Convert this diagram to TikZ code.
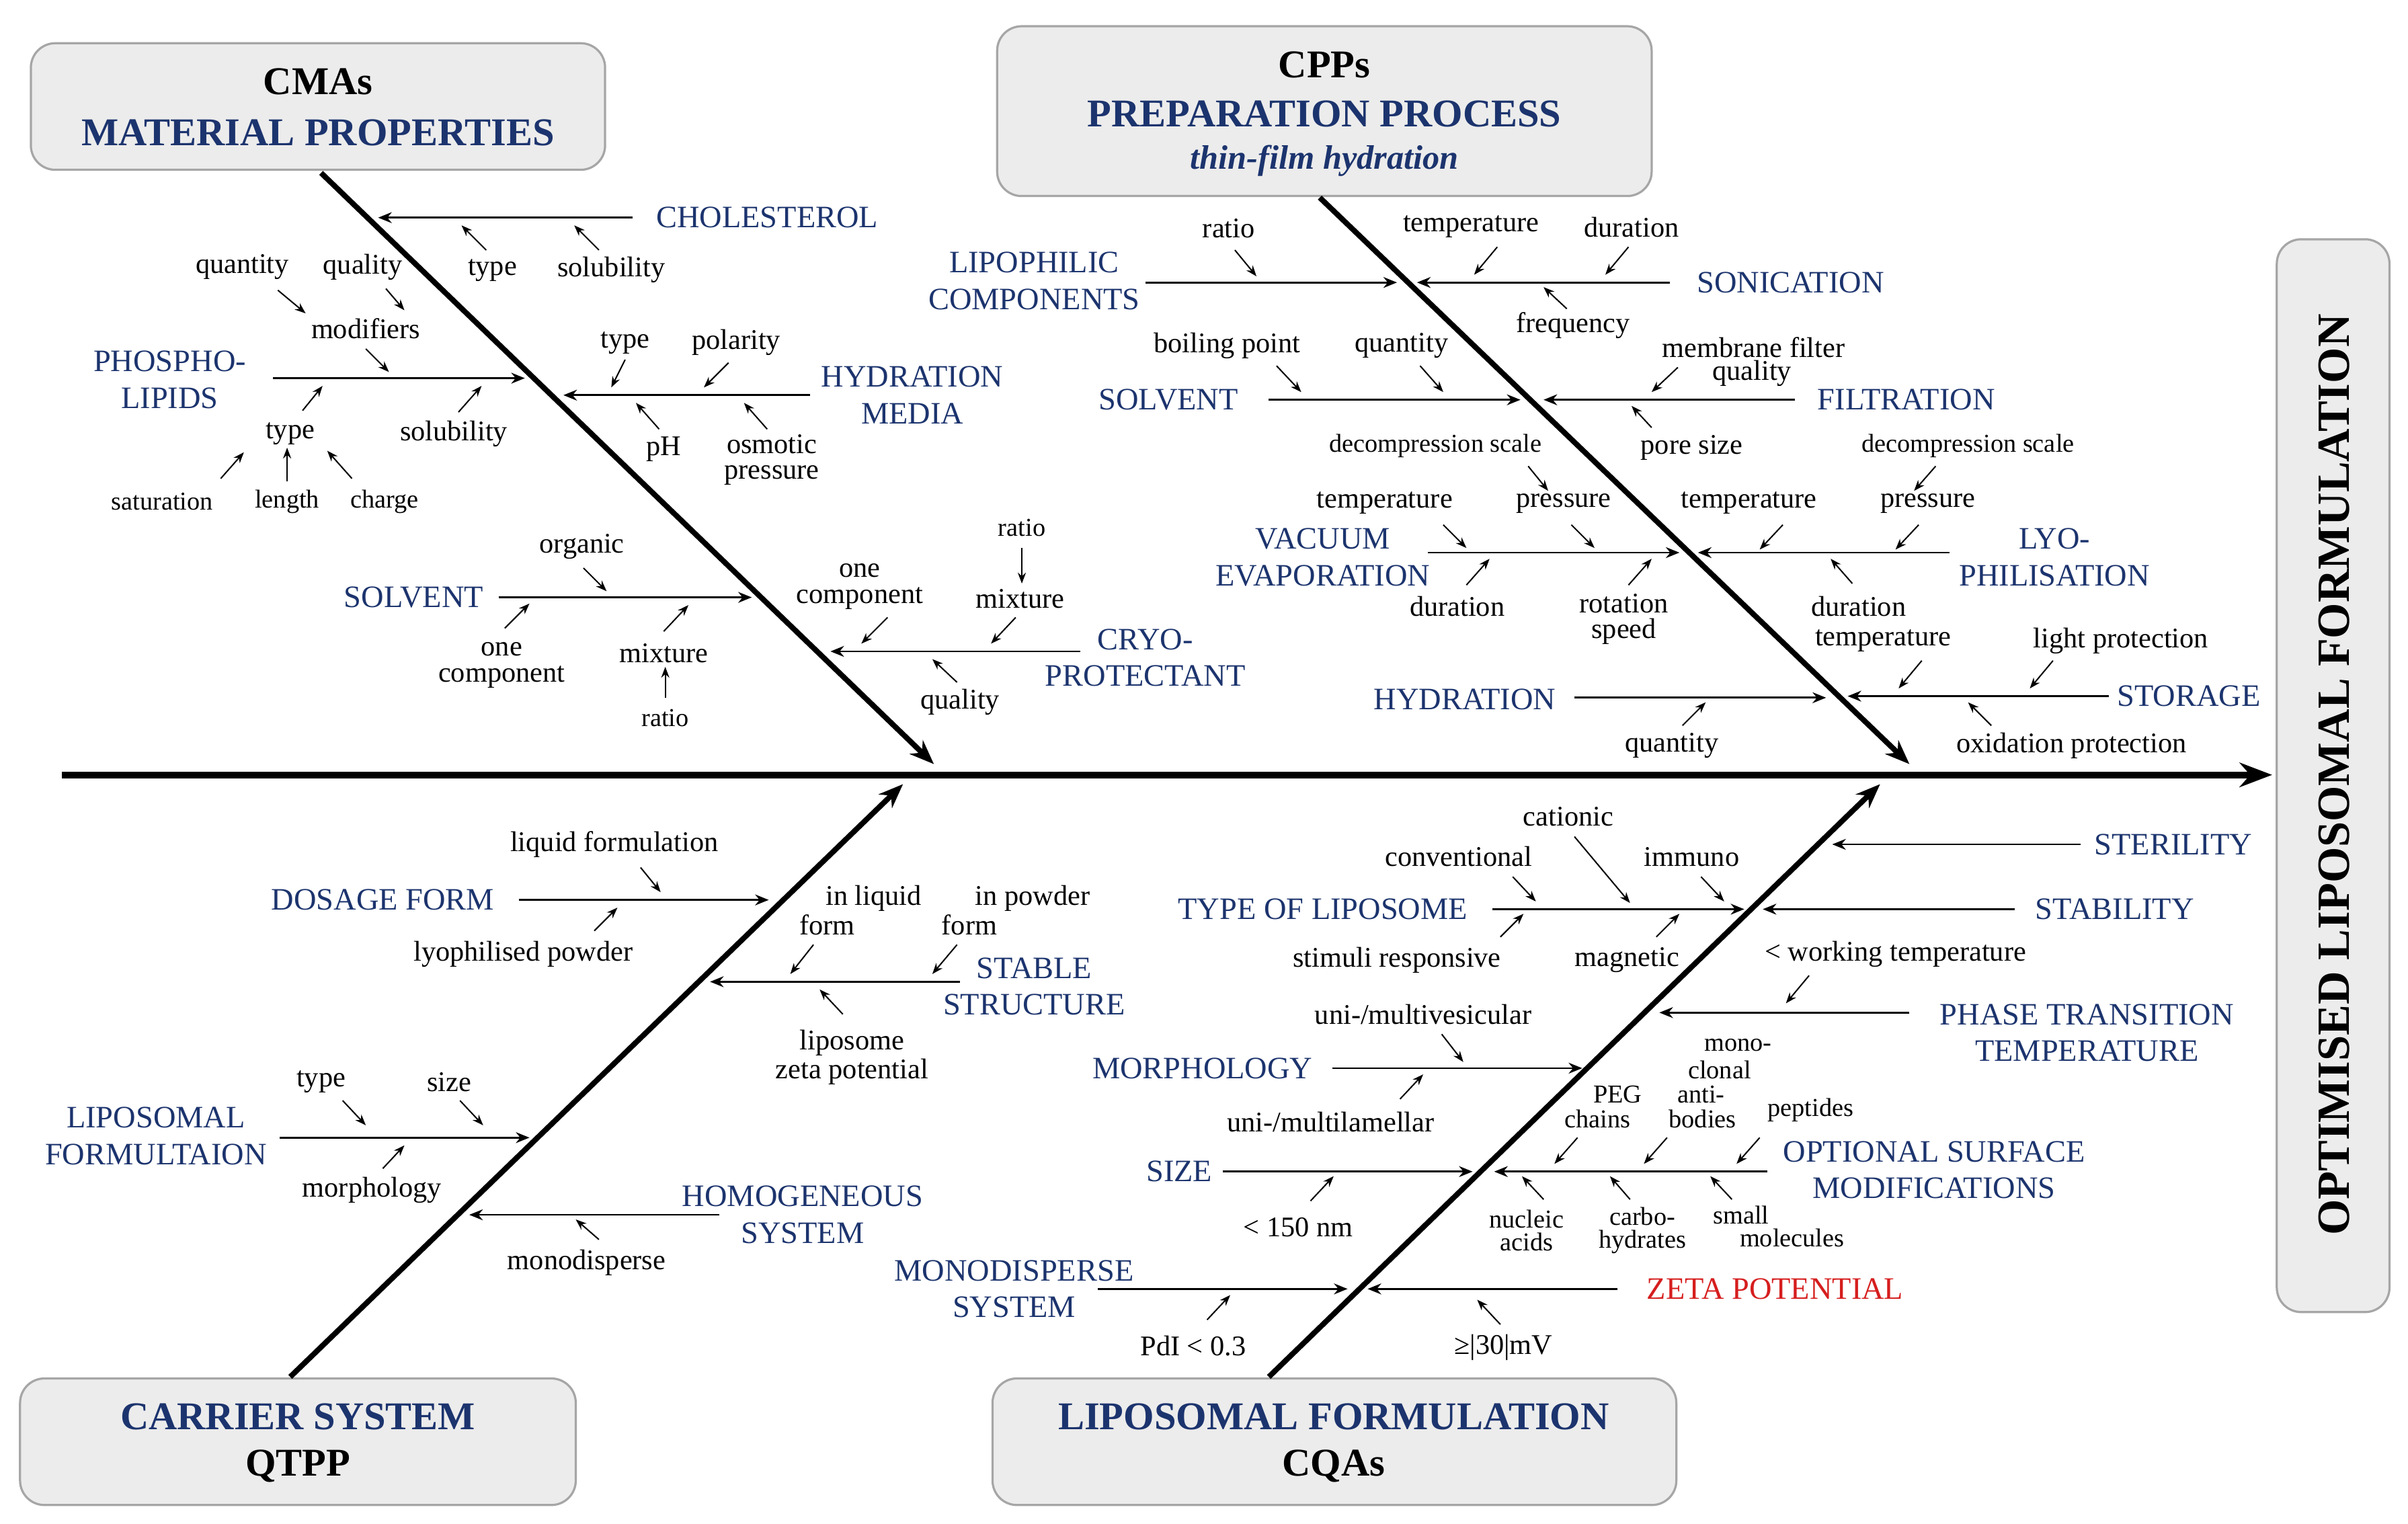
\documentclass[tikz,border=0pt]{standalone}
\usepackage{fontspec}
\setmainfont{Liberation Serif}
\usetikzlibrary{arrows.meta}
\definecolor{navy}{RGB}{28,52,110}
\definecolor{zred}{RGB}{214,30,30}
\definecolor{boxg}{RGB}{236,236,236}
\tikzset{
 sl/.style={font=\fontsize{10.5}{9.5}\selectfont,align=center,inner sep=0pt},
 bl/.style={font=\fontsize{11.5}{13.5}\selectfont,text=navy,align=center,inner sep=0pt},
 tt/.style={font=\fontsize{14.5}{17.5}\selectfont\bfseries,text=navy,align=center,inner sep=0pt},
 boxx/.style={draw=gray!70,fill=boxg,rounded corners=9pt,line width=0.8pt},
 br/.style={line width=0.7pt,-{Stealth[length=5pt,width=4pt]}},
 sa/.style={line width=0.5pt,-{Stealth[length=4pt,width=3pt]}},
 bone/.style={line width=2pt,-{Stealth[length=9pt,width=7pt]}},
}
\begin{document}
\begin{tikzpicture}[x=0.02cm,y=-0.02cm]
\useasboundingbox (0,0) rectangle (1560,987);
% boxes
\draw[boxx] (20,28) rectangle (392,110);
\node[tt,text=black] (t1) at (206,53) {CMAs};
\node[tt] (t1b) at (206,86) {MATERIAL PROPERTIES};
\draw[boxx] (646,17) rectangle (1070,127);
\node[tt,text=black] (t2) at (858,42) {CPPs};
\node[tt] (t2b) at (858,74) {PREPARATION PROCESS};
\node[tt,font=\fontsize{12.5}{14}\selectfont\bfseries\itshape] (t2c) at (858,104) {thin-film hydration};
\draw[boxx] (13,893) rectangle (373,975);
\node[tt] (t3) at (193,918) {CARRIER SYSTEM};
\node[tt,text=black] (t3b) at (193,950) {QTPP};
\draw[boxx] (643,893) rectangle (1086,975);
\node[tt] (t4) at (864,918) {LIPOSOMAL FORMULATION};
\node[tt,text=black] (t4b) at (864,950) {CQAs};
\draw[boxx] (1475,155) rectangle (1548,850);
\node[tt,text=black,font=\fontsize{17}{20}\selectfont\bfseries,rotate=90] (goal) at (1512,502) {OPTIMISED LIPOSOMAL FORMULATION};
% spine and bones
\coordinate (s0) at (40,502); \coordinate (s1) at (1472,502);
\draw[line width=2.4pt,-{Stealth[length=12pt,width=9pt]}] (s0) -- (s1);
\draw[bone] (208,112) -- (605,495);
\draw[bone] (855,128) -- (1237,495);
\draw[bone] (188,892) -- (585,508);
\draw[bone] (822,892) -- (1218,508);

% ===== CMAs
\node[bl] at (497,141) {CHOLESTEROL};
\draw[br] (410,141) -- (245,141);
\node[sl] at (319,175) {type}; \draw[sa] (315,162) -- (299,146);
\node[sl] at (396,175) {solubility}; \draw[sa] (388,162) -- (372,146);
\node[bl] at (110,246) {PHOSPHO-\\LIPIDS};
\draw[br] (177,245) -- (340,245);
\node[sl] at (157,173) {quantity}; \draw[sa] (180,188) -- (198,203);
\node[sl] at (235,173) {quality}; \draw[sa] (250,187) -- (262,201);
\node[sl] at (237,213) {modifiers}; \draw[sa] (237,226) -- (252,241);
\node[sl] at (188,281) {type}; \draw[sa] (196,266) -- (209,250);
\node[sl] at (294,281) {solubility}; \draw[sa] (297,267) -- (312,250);
\node[sl,font=\fontsize{9.5}{9}\selectfont] at (105,325) {saturation}; \draw[sa] (143,310) -- (158,293);
\node[sl,font=\fontsize{9.5}{9}\selectfont] at (186,325) {length}; \draw[sa] (186,312) -- (186,290);
\node[sl,font=\fontsize{9.5}{9}\selectfont] at (249,325) {charge}; \draw[sa] (228,310) -- (212,292);
\node[bl] at (591,256) {HYDRATION\\MEDIA};
\draw[br] (525,256) -- (365,256);
\node[sl] at (405,222) {type}; \draw[sa] (405,233) -- (396,251);
\node[sl] at (477,222) {polarity}; \draw[sa] (472,235) -- (456,251);
\node[sl] at (430,291) {pH}; \draw[sa] (427,278) -- (412,261);
\node[sl] at (500,298) {osmotic\\pressure}; \draw[sa] (497,278) -- (482,261);
\node[bl] at (268,387) {SOLVENT};
\draw[br] (323,387) -- (487,387);
\node[sl] at (377,354) {organic}; \draw[sa] (378,368) -- (393,383);
\node[sl] at (325,431) {one\\component}; \draw[sa] (327,407) -- (343,391);
\node[sl] at (430,423) {mixture}; \draw[sa] (430,409) -- (446,392);
\node[sl,font=\fontsize{9.5}{9}\selectfont] at (431,465) {ratio}; \draw[sa] (431,452) -- (431,432);
\node[bl] at (742,426) {CRYO-\\PROTECTANT};
\draw[br] (700,422) -- (538,422);
\node[sl] at (557,380) {one\\component}; \draw[sa] (575,400) -- (558,417);
\node[sl,font=\fontsize{9.5}{9}\selectfont] at (662,342) {ratio}; \draw[sa] (662,355) -- (662,378);
\node[sl] at (661,388) {mixture}; \draw[sa] (658,400) -- (642,417);
\node[sl] at (622,455) {quality}; \draw[sa] (620,442) -- (604,427);

% ===== CPPs
\node[bl] at (670,182) {LIPOPHILIC\\COMPONENTS};
\draw[br] (742,183) -- (905,183);
\node[sl] at (796,148) {ratio}; \draw[sa] (800,162) -- (814,179);
\node[bl] at (1160,183) {SONICATION};
\draw[br] (1082,183) -- (918,183);
\node[sl] at (953,147) {temperature}; \draw[sa] (970,160) -- (955,178);
\node[sl] at (1057,147) {duration}; \draw[sa] (1055,160) -- (1040,178);
\node[sl] at (1019,211) {frequency}; \draw[sa] (1015,200) -- (1000,186);
\node[bl] at (757,259) {SOLVENT};
\draw[br] (822,259) -- (985,259);
\node[sl] at (795,224) {boiling point}; \draw[sa] (827,237) -- (843,254);
\node[sl] at (908,224) {quantity}; \draw[sa] (920,237) -- (935,254);
\node[bl] at (1235,259) {FILTRATION};
\draw[br] (1163,259) -- (1000,259);
\node[sl] at (1136,225) {membrane filter};
\node[sl] at (1135,242) {quality}; \draw[sa] (1087,238) -- (1070,254);
\node[sl] at (1096,290) {pore size}; \draw[sa] (1070,277) -- (1057,263);
\node[sl,font=\fontsize{9.5}{9}\selectfont] at (930,289) {decompression scale}; \draw[sa] (990,302) -- (1003,318);
\node[sl,font=\fontsize{9.5}{9}\selectfont] at (1275,289) {decompression scale}; \draw[sa] (1254,302) -- (1240,318);
\node[bl] at (857,361) {VACUUM\\EVAPORATION};
\draw[br] (925,358) -- (1088,358);
\node[sl] at (897,326) {temperature}; \draw[sa] (935,340) -- (950,355);
\node[sl] at (1013,326) {pressure}; \draw[sa] (1018,340) -- (1033,355);
\node[sl] at (944,393) {duration}; \draw[sa] (950,379) -- (965,362);
\node[sl] at (1052,401) {rotation\\speed}; \draw[sa] (1055,379) -- (1070,362);
\node[bl] at (1331,361) {LYO-\\PHILISATION};
\draw[br] (1263,358) -- (1100,358);
\node[sl] at (1133,326) {temperature}; \draw[sa] (1155,340) -- (1140,356);
\node[sl] at (1249,326) {pressure}; \draw[sa] (1243,340) -- (1228,356);
\node[sl] at (1204,393) {duration}; \draw[sa] (1200,378) -- (1186,362);
\node[bl] at (949,453) {HYDRATION};
\draw[br] (1020,452) -- (1183,452);
\node[sl] at (1083,483) {quantity}; \draw[sa] (1090,470) -- (1105,455);
\node[bl] at (1418,451) {STORAGE};
\draw[br] (1366,451) -- (1197,451);
\node[sl] at (1220,415) {temperature}; \draw[sa] (1245,428) -- (1230,446);
\node[sl] at (1374,415) {light protection}; \draw[sa] (1330,428) -- (1315,446);
\node[sl] at (1342,483) {oxidation protection}; \draw[sa] (1290,470) -- (1275,455);

% ===== QTPP
\node[bl] at (248,583) {DOSAGE FORM};
\draw[br] (336,583) -- (498,583);
\node[sl] at (398,547) {liquid formulation}; \draw[sa] (415,562) -- (428,578);
\node[sl] at (339,618) {lyophilised powder}; \draw[sa] (385,603) -- (400,588);
\node[sl] at (566,582) {in liquid}; \node[sl] at (536,599) {form};
\node[sl] at (669,582) {in powder}; \node[sl] at (628,599) {form};
\draw[sa] (527,612) -- (512,631); \draw[sa] (620,612) -- (604,631);
\node[bl] at (670,639) {STABLE\\STRUCTURE};
\draw[br] (622,636) -- (460,636);
\node[sl] at (552,685) {liposome\\zeta potential}; \draw[sa] (546,657) -- (531,641);
\node[bl] at (101,736) {LIPOSOMAL\\FORMULTAION};
\draw[br] (181,737) -- (343,737);
\node[sl] at (208,701) {type}; \draw[sa] (222,713) -- (237,729);
\node[sl] at (291,701) {size}; \draw[sa] (298,713) -- (313,729);
\node[sl] at (241,771) {morphology}; \draw[sa] (248,757) -- (262,742);
\node[bl] at (520,787) {HOMOGENEOUS\\SYSTEM};
\draw[br] (466,787) -- (304,787);
\node[sl] at (380,818) {monodisperse}; \draw[sa] (388,803) -- (373,790);

% ===== CQAs
\node[bl] at (1408,547) {STERILITY};
\draw[br] (1348,547) -- (1187,547);
\node[bl] at (1370,589) {STABILITY};
\draw[br] (1305,589) -- (1142,589);
\node[bl] at (857,589) {TYPE OF LIPOSOME};
\draw[br] (967,589) -- (1130,589);
\node[sl] at (1016,529) {cationic}; \draw[sa] (1020,542) -- (1056,585);
\node[sl] at (945,555) {conventional}; \draw[sa] (980,568) -- (995,584);
\node[sl] at (1096,555) {immuno}; \draw[sa] (1102,568) -- (1117,584);
\node[sl] at (905,622) {stimuli responsive}; \draw[sa] (972,607) -- (987,592);
\node[sl] at (1054,622) {magnetic}; \draw[sa] (1073,607) -- (1088,592);
\node[sl] at (1228,618) {< working temperature}; \draw[sa] (1172,632) -- (1157,650);
\node[bl] at (1352,669) {PHASE TRANSITION\\TEMPERATURE};
\draw[br] (1237,656) -- (1075,656);
\node[bl] at (779,692) {MORPHOLOGY};
\draw[br] (863,692) -- (1025,692);
\node[sl] at (922,657) {uni-/multivesicular}; \draw[sa] (934,670) -- (948,688);
\node[sl] at (862,727) {uni-/multilamellar}; \draw[sa] (907,712) -- (922,696);
\node[sl,font=\fontsize{9.5}{8.5}\selectfont] at (1126,677) {mono-};
\node[sl,font=\fontsize{9.5}{8.5}\selectfont] at (1114,693) {clonal};
\node[sl,font=\fontsize{9.5}{8.5}\selectfont] at (1102,709) {anti-};
\node[sl,font=\fontsize{9.5}{8.5}\selectfont] at (1103,725) {bodies};
\node[sl,font=\fontsize{9.5}{8.5}\selectfont] at (1048,709) {PEG};
\node[sl,font=\fontsize{9.5}{8.5}\selectfont] at (1035,725) {chains};
\node[sl,font=\fontsize{9.5}{8.5}\selectfont] at (1173,719) {peptides};
\draw[sa] (1022,737) -- (1007,754); \draw[sa] (1080,737) -- (1065,754); \draw[sa] (1140,737) -- (1125,754);
\node[bl] at (1253,758) {OPTIONAL SURFACE\\MODIFICATIONS};
\draw[br] (1145,759) -- (968,759);
\node[sl,font=\fontsize{9.5}{8.5}\selectfont] at (989,797) {nucleic\\acids}; \draw[sa] (1000,777) -- (986,762);
\node[sl,font=\fontsize{9.5}{8.5}\selectfont] at (1064,797) {carbo-\\hydrates}; \draw[sa] (1056,777) -- (1043,762);
\node[sl,font=\fontsize{9.5}{8.5}\selectfont] at (1128,787) {small}; \node[sl,font=\fontsize{9.5}{8.5}\selectfont] at (1161,802) {molecules}; \draw[sa] (1122,777) -- (1108,762);
\node[bl] at (764,759) {SIZE};
\draw[br] (792,759) -- (954,759);
\node[sl] at (841,795) {< 150 nm}; \draw[sa] (849,778) -- (864,762);
\node[bl] at (657,835) {MONODISPERSE\\SYSTEM};
\draw[br] (711,835) -- (873,835);
\node[sl] at (773,872) {PdI < 0.3}; \draw[sa] (782,855) -- (797,839);
\node[bl,text=zred] at (1150,835) {ZETA POTENTIAL};
\draw[br] (1048,835) -- (886,835);
\node[sl] at (974,873) {≥|30|mV}; \draw[sa] (972,858) -- (957,842);
\end{tikzpicture}
\end{document}
